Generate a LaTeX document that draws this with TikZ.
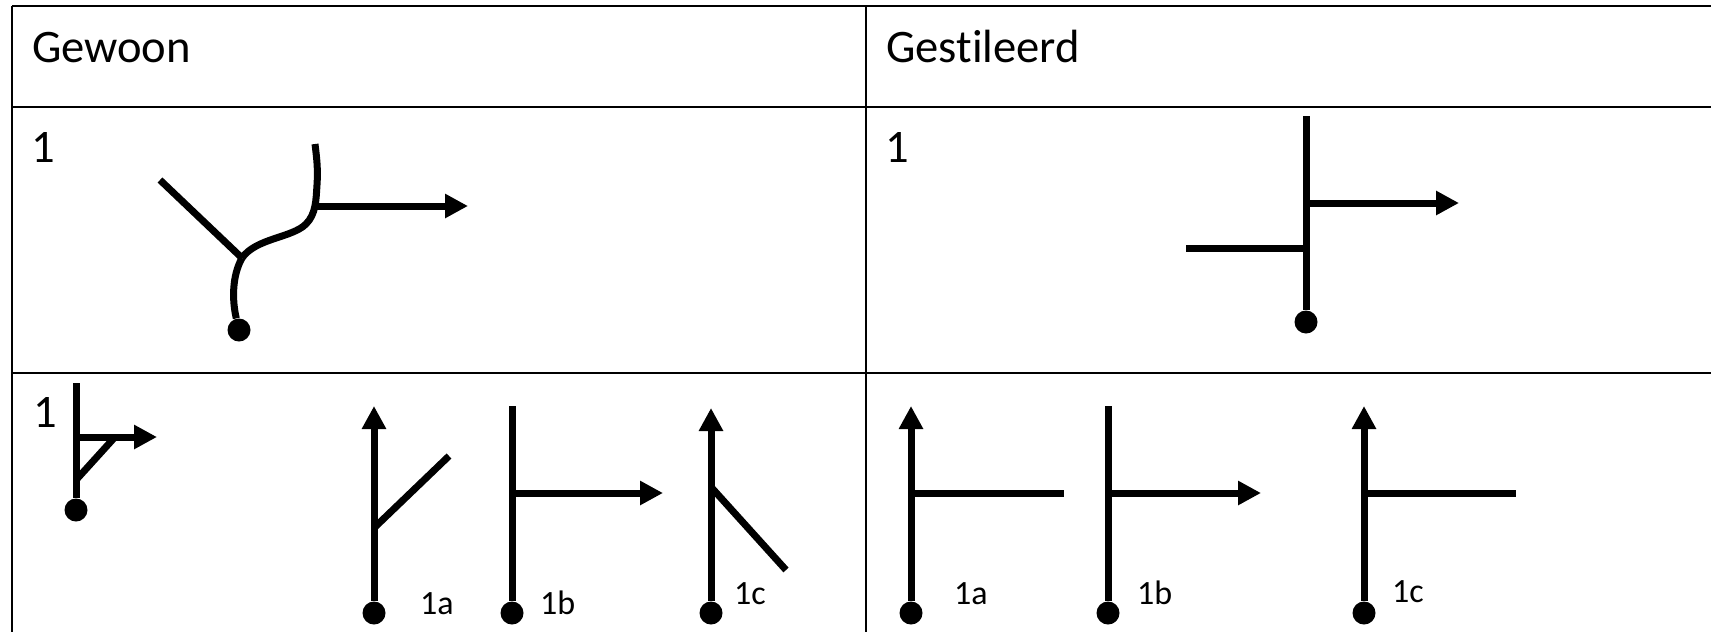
\documentclass[tikz,border=0pt]{standalone}
\usepackage{fontspec}
\setmainfont{Carlito}[Ligatures=NoCommon]
\usetikzlibrary{arrows.meta, positioning}

\tikzset{
    rule/.style={line width=1.2pt},
    pipe/.style={line width=3.5pt},
    flow/.style={pipe, -{Triangle[length=11.5pt, width=11.5pt]}},
    dot/.style={circle, fill, inner sep=0pt, minimum size=11.5pt},
    head/.style={anchor=base west, font=\fontsize{23.3}{28}\selectfont},
    tag/.style={anchor=base west, font=\fontsize{17}{20}\selectfont}
}

\begin{document}
\begin{tikzpicture}[x=0.5pt, y=-0.5pt]
    \useasboundingbox (0,0) rectangle (1711,632);

    % table
    \draw[rule] (12,6) -- (1711,6);
    \draw[rule] (12,107) -- (1711,107);
    \draw[rule] (12,373) -- (1711,373);
    \draw[rule] (12,6) -- (12,632);
    \draw[rule] (866,6) -- (866,632);

    \node (Gewoon) [head] at (25,62) {Gewoon};
    \node (Gestileerd) [head] at (879,62) {Gestileerd};
    \node (nrL) [head] at (24,162) {1};
    \node (nrR) [head] at (878,162) {1};
    \node (nrS) [head] at (26,427) {1};

    % gewoon 1
    \node (d1) [dot] at (239,330) {};
    \coordinate (J) at (242,258);
    \coordinate (branch) at (160,180);
    \coordinate (bend) at (317,206);
    \coordinate (top1) at (315,144);
    \coordinate (out1) at (468,206);
    \draw[pipe] (branch) -- (J);
    \draw[pipe] (J) .. controls (256,238) and (292,238) .. (306,224)
        .. controls (316,214) and (316,200) .. (317,185)
        .. controls (318,170) and (317,160) .. (top1);
    \draw[pipe] (J) .. controls (232,276) and (232,300) .. (d1);
    \draw[flow] (bend) -- (out1);

    % gestileerd 1
    \node (d2) [dot] at (1306,322) {};
    \coordinate (top2) at (1306,116);
    \coordinate (in2) at (1186,248);
    \coordinate (j2) at (1306,248);
    \coordinate (b2) at (1306,203);
    \coordinate (out2) at (1459,203);
    \draw[pipe] (d2) -- (top2);
    \draw[pipe] (in2) -- (j2);
    \draw[flow] (b2) -- (out2);

    % small symbol
    \node (d3) [dot] at (76,510) {};
    \coordinate (top3) at (76,383);
    \coordinate (b3) at (76,437);
    \coordinate (out3) at (157,437);
    \coordinate (s3) at (76,480);
    \coordinate (e3) at (115,437);
    \draw[pipe] (d3) -- (top3);
    \draw[flow] (b3) -- (out3);
    \draw[pipe] (s3) -- (e3);

    % gewoon 1a 1b 1c
    \node (dA) [dot] at (374,613) {};
    \coordinate (tA) at (374,406);
    \coordinate (jA) at (374,528);
    \coordinate (eA) at (449,456);
    \draw[flow] (dA) -- (tA);
    \draw[pipe] (jA) -- (eA);
    \node (lA) [tag] at (413,614) {1a};

    \node (dB) [dot] at (512,613) {};
    \coordinate (tB) at (512,406);
    \coordinate (jB) at (512,493);
    \coordinate (eB) at (663,493);
    \draw[pipe] (dB) -- (tB);
    \draw[flow] (jB) -- (eB);
    \node (lB) [tag] at (533,614) {1b};

    \node (dC) [dot] at (711,613) {};
    \coordinate (tC) at (711,408);
    \coordinate (jC) at (711,487);
    \coordinate (eC) at (786,570);
    \draw[flow] (dC) -- (tC);
    \draw[pipe] (jC) -- (eC);
    \node (lC) [tag] at (727,604) {1c};

    % gestileerd 1a 1b 1c
    \node (dD) [dot] at (911,613) {};
    \coordinate (tD) at (911,406);
    \coordinate (jD) at (911,493);
    \coordinate (eD) at (1064,493);
    \draw[flow] (dD) -- (tD);
    \draw[pipe] (jD) -- (eD);
    \node (lD) [tag] at (947,604) {1a};

    \node (dE) [dot] at (1108,613) {};
    \coordinate (tE) at (1108,406);
    \coordinate (jE) at (1108,493);
    \coordinate (eE) at (1261,493);
    \draw[pipe] (dE) -- (tE);
    \draw[flow] (jE) -- (eE);
    \node (lE) [tag] at (1130,604) {1b};

    \node (dF) [dot] at (1364,613) {};
    \coordinate (tF) at (1364,406);
    \coordinate (jF) at (1364,493);
    \coordinate (eF) at (1516,493);
    \draw[flow] (dF) -- (tF);
    \draw[pipe] (jF) -- (eF);
    \node (lF) [tag] at (1385,602) {1c};
\end{tikzpicture}
\end{document}
